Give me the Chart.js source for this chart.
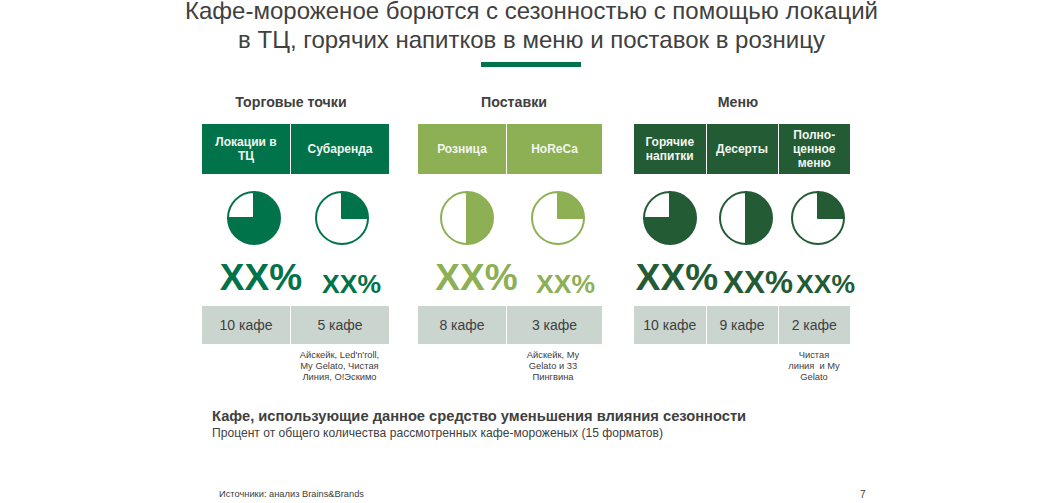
<!DOCTYPE html>
<html lang="ru"><head><meta charset="utf-8">
<script src="https://cdn.jsdelivr.net/npm/chart.js@4"></script>
<style>
html,body{margin:0;padding:0;background:#fff;width:1052px;height:503px;overflow:hidden;font-family:"Liberation Sans",Arial,sans-serif;color:#404040}
.t{position:absolute;white-space:pre;text-align:center;line-height:1}
.box{position:absolute;display:flex;align-items:center;justify-content:center;text-align:center;box-sizing:border-box}
canvas{position:absolute;display:block}
</style></head><body>
<script>
const title = ["Кафе-мороженое борются с сезонностью с помощью локаций","в ТЦ, горячих напитков в меню и поставок в розницу"];
const groupNames = ["Торговые точки","Поставки","Меню"];
const categories = ["Локации в\nТЦ","Субаренда","Розница","HoReCa","Горячие\nнапитки","Десерты","Полно-\nценное\nменю"];
const sharePercent = [75,25,50,25,75,50,25];
const restPercent = [25,75,50,75,25,50,75];
const valueLabels = ["XX%","XX%","XX%","XX%","XX%","XX%","XX%"];
const cafeLabels = ["10 кафе","5 кафе","8 кафе","3 кафе","10 кафе","9 кафе","2 кафе"];
const notes = ["","Айскейк, Led'n'roll,\nMy Gelato, Чистая\nЛиния, O!Эскимо","","Айскейк, My\nGelato и 33\nПингвина","","","Чистая\nлиния  и My\nGelato"];
const subTitle = "Кафе, использующие данное средство уменьшения влияния сезонности";
const subNote = "Процент от общего количества рассмотренных кафе-мороженых (15 форматов)";
const source = "Источники: анализ Brains&Brands";
const pageNo = "7";

// layout (separate from data)
const colL=[202,291,418,507,634,706.5,778.5], colR=[290,389,506,602,705.5,777.5,850];
const pieX=[253.5,341.7,467,558.3,669.7,745.7,818.3];
const colors=["#00734a","#00734a","#8db055","#8db055","#235b34","#235b34","#235b34"];
const pctX=[261,351.5,476.5,565.5,677,758,825.5], pctSize=[37,26.5,37,26.5,37,31.5,26.5], pctBottom=[291,294,291,294,291,294,294];
const groupX=[291,514,738];
const noteX=[0,339.5,0,553,0,0,814];

function text(s,x,y,size,opts={}){
  const d=document.createElement('div');d.className='t';d.textContent=s;
  d.style.cssText+=`left:${x}px;top:${y}px;font-size:${size}px;`+(opts.css||'');
  document.body.appendChild(d);
  if(opts.center) d.style.transform='translateX(-50%)';
  return d;
}
text(title[0],531.5,0,24,{center:true,css:'line-height:22px'});
text(title[1],531.5,28,24,{center:true});
const bar=document.createElement('div');bar.style.cssText='position:absolute;left:481px;top:62px;width:100px;height:5px;background:#00734a';document.body.appendChild(bar);
groupNames.forEach((g,i)=>text(g,groupX[i],95,14.2,{center:true,css:'font-weight:bold'}));
categories.forEach((c,i)=>{
  const b=document.createElement('div');b.className='box';
  b.style.cssText=`left:${colL[i]}px;top:123.5px;width:${colR[i]-colL[i]}px;height:50.5px;background:${colors[i]};color:#f2f5ef;font-weight:bold;font-size:12px;line-height:14px;white-space:pre`;
  b.textContent=c;document.body.appendChild(b);
  const g=document.createElement('div');g.className='box';
  g.style.cssText=`left:${colL[i]}px;top:305.5px;width:${colR[i]-colL[i]}px;height:38px;background:#cad5d0;color:#404040;font-size:14px`;
  g.textContent=cafeLabels[i];document.body.appendChild(g);
  const cv=document.createElement('canvas');
  cv.width=54;cv.height=54;cv.style.cssText=`left:${pieX[i]-27}px;top:${217.6-27}px;width:54px;height:54px`;
  document.body.appendChild(cv);
  new Chart(cv,{type:'pie',data:{labels:['Доля','Остальные'],datasets:[{data:[sharePercent[i],restPercent[i]],backgroundColor:[colors[i],'#ffffff'],borderColor:colors[i],borderWidth:2,borderJoinStyle:'round'}]},
    options:{responsive:false,animation:false,events:[],plugins:{legend:{display:false},tooltip:{enabled:false}}}});
  text(valueLabels[i],pctX[i],pctBottom[i]-pctSize[i]*0.86,pctSize[i],{center:true,css:`font-weight:bold;color:${colors[i]}`});
  if(notes[i]) text(notes[i],noteX[i],349.5,9.35,{center:true,css:'line-height:11.3px'});
});
text(subTitle,212,409,14.7,{css:'font-weight:bold;'});
text(subNote,212,427,12.1);
text(source,219,490,9.3);
text(pageNo,860,490,10);
</script>
</body></html>
